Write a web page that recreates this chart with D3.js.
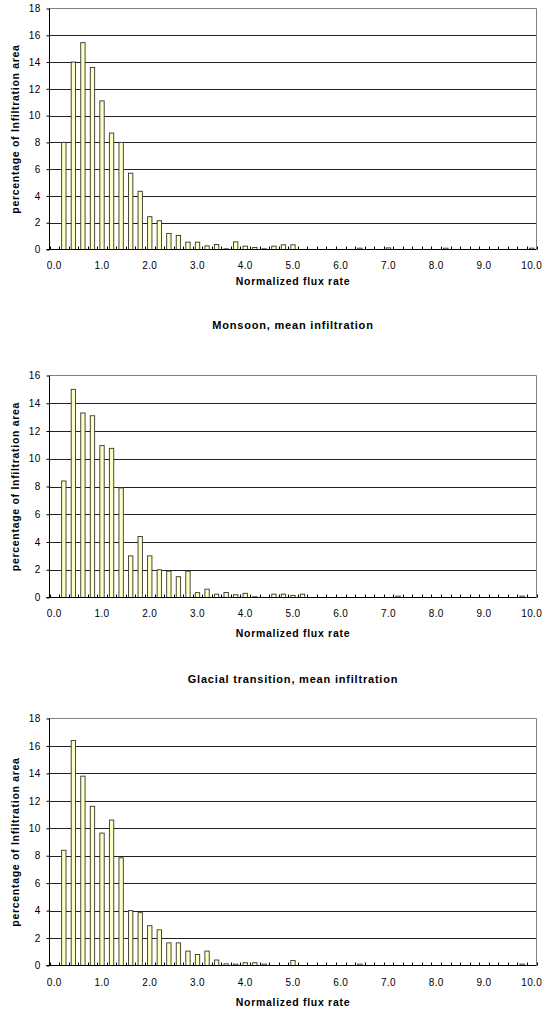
<!DOCTYPE html>
<html>
<head>
<meta charset="utf-8">
<script src="https://cdn.jsdelivr.net/npm/d3@7"></script>
<style>
  body { margin: 0; background: #fff; }
  svg text { font-family: "Liberation Sans", Arial, sans-serif; fill: #000; }
</style>
</head>
<body>
<div id="chart"></div>
<script>
"use strict";

// flux rate bins (category axis)
var categories = ["0.0","0.2","0.4","0.6","0.8","1.0","1.2","1.4","1.6","1.8",
    "2.0","2.2","2.4","2.6","2.8","3.0","3.2","3.4","3.6","3.8",
    "4.0","4.2","4.4","4.6","4.8","5.0","5.2","5.4","5.6","5.8",
    "6.0","6.2","6.4","6.6","6.8","7.0","7.2","7.4","7.6","7.8",
    "8.0","8.2","8.4","8.6","8.8","9.0","9.2","9.4","9.6","9.8","10.0"];

// labelled every 1.0
var xTickLabels = ["0.0","1.0","2.0","3.0","4.0","5.0","6.0","7.0","8.0","9.0","10.0"];

// percentage of infiltration area per bin
var presentValues = [0, 8.0, 14.0, 15.45, 13.6, 11.1, 8.7, 8.0, 5.7, 4.35,
    2.45, 2.15, 1.2, 1.05, 0.55, 0.55, 0.27, 0.37, 0.05, 0.57,
    0.25, 0.15, 0.05, 0.25, 0.35, 0.35, 0, 0, 0, 0,
    0, 0, 0.1, 0, 0, 0.12, 0, 0, 0, 0,
    0, 0.1, 0, 0, 0, 0, 0, 0, 0, 0, 0.1];

var monsoonValues = [0, 8.4, 15.0, 13.3, 13.1, 10.95, 10.75, 7.9, 3.0, 4.4,
    3.0, 2.0, 1.9, 1.5, 1.9, 0.35, 0.6, 0.24, 0.36, 0.2,
    0.3, 0.05, 0, 0.24, 0.24, 0.15, 0.24, 0, 0, 0,
    0, 0, 0, 0, 0, 0, 0.1, 0, 0, 0,
    0, 0, 0, 0, 0, 0, 0, 0, 0, 0.1, 0];

var glacialValues = [0, 8.4, 16.4, 13.8, 11.6, 9.65, 10.6, 7.85, 4.0, 3.85,
    2.9, 2.6, 1.65, 1.65, 1.05, 0.8, 1.05, 0.4, 0.12, 0.1,
    0.2, 0.2, 0.1, 0, 0, 0.36, 0, 0, 0, 0,
    0, 0, 0.1, 0, 0, 0, 0, 0, 0, 0,
    0, 0, 0, 0, 0, 0, 0, 0, 0, 0.1, 0];

var yMaxes = [18, 16, 18];
var titles = ["", "Monsoon, mean infiltration", "Glacial transition, mean infiltration"];

var xTitle = "Normalized flux rate";
var yTitle = "percentage of Infiltration area";

// panel layout
var panels = [
    { values: presentValues, yMax: yMaxes[0], title: titles[0], top: 8.5, bottom: 249.5, labelY: 269, xTitleY: 285, titleY: 0 },
    { values: monsoonValues, yMax: yMaxes[1], title: titles[1], top: 375.5, bottom: 597.5, labelY: 617, xTitleY: 637, titleY: 329 },
    { values: glacialValues, yMax: yMaxes[2], title: titles[2], top: 718.5, bottom: 965.5, labelY: 986, xTitleY: 1006, titleY: 683 }
];

var plotLeft = 49.5, plotRight = 536.5;

var svg = d3.select("#chart")
    .append("svg")
    .attr("width", 545)
    .attr("height", 1011);

panels.forEach(function (p) {

    var g = svg.append("g");

    var x = d3.scaleBand()
        .domain(categories)
        .range([plotLeft, plotRight])
        .paddingInner(0.545)
        .paddingOuter(0.545 / 2);

    var y = d3.scaleLinear()
        .domain([0, p.yMax])
        .range([p.bottom, p.top]);

    var yTicks = d3.range(0, p.yMax + 1, 2);

    // gridlines
    g.selectAll(".grid")
        .data(yTicks.filter(d => d > 0 && d < p.yMax))
        .join("line")
        .attr("x1", plotLeft)
        .attr("x2", plotRight)
        .attr("y1", d => Math.round(y(d)) + 0.5)
        .attr("y2", d => Math.round(y(d)) + 0.5)
        .attr("stroke", "#222")
        .attr("stroke-width", 1);

    // plot area border (top / right)
    g.append("path")
        .attr("d", `M${plotLeft},${p.top}H${plotRight}V${p.bottom}`)
        .attr("fill", "none")
        .attr("stroke", "#808080");

    // bars
    var data = categories.map((c, i) => ({ cat: c, v: p.values[i] })).filter(d => d.v > 0);
    g.selectAll(".bar")
        .data(data)
        .join("rect")
        .attr("x", d => x(d.cat))
        .attr("y", d => y(d.v))
        .attr("width", x.bandwidth())
        .attr("height", d => y(0) - y(d.v))
        .attr("fill", "#ffffc0")
        .attr("stroke", "#333")
        .attr("stroke-width", 0.9);

    // category boundary ticks (inside)
    var step = x.step();
    g.selectAll(".xtick")
        .data(d3.range(categories.length + 1))
        .join("line")
        .attr("x1", i => Math.round(plotLeft + i * step) + 0.5)
        .attr("x2", i => Math.round(plotLeft + i * step) + 0.5)
        .attr("y1", p.bottom)
        .attr("y2", p.bottom - 3)
        .attr("stroke", "#000");

    // x axis
    var xAxis = g.append("g")
        .attr("transform", `translate(0,${p.bottom})`)
        .call(d3.axisBottom(x).tickValues(xTickLabels).tickSize(0).tickPadding(0));
    xAxis.select(".domain").attr("stroke", "#000").attr("d", `M${plotLeft - 3},0H${plotRight}`);
    xAxis.selectAll("text")
        .attr("y", p.labelY - p.bottom)
        .attr("dy", null)
        .style("font-size", "10px")
        .style("letter-spacing", "0.4px");

    // y axis
    var yAxis = g.append("g")
        .attr("transform", `translate(${plotLeft},0)`)
        .call(d3.axisLeft(y).tickValues(yTicks).tickSize(3).tickPadding(6).tickFormat(d3.format("d")));
    yAxis.select(".domain").attr("stroke", "#000").attr("d", `M0,${p.top}V${p.bottom}`);
    yAxis.selectAll(".tick line").attr("stroke", "#000");
    yAxis.selectAll("text")
        .style("font-size", "10px")
        .style("letter-spacing", "0.3px");

    // axis titles
    g.append("text")
        .attr("x", (plotLeft + plotRight) / 2)
        .attr("y", p.xTitleY)
        .attr("text-anchor", "middle")
        .style("font-size", "10.5px")
        .style("font-weight", "bold")
        .style("letter-spacing", "0.7px")
        .text(xTitle);

    g.append("text")
        .attr("transform", `translate(19,${(p.top + p.bottom) / 2}) rotate(-90)`)
        .attr("text-anchor", "middle")
        .style("font-size", "10.5px")
        .style("font-weight", "bold")
        .style("letter-spacing", "0.7px")
        .text(yTitle);

    if (p.title) {
        g.append("text")
            .attr("x", (plotLeft + plotRight) / 2)
            .attr("y", p.titleY)
            .attr("text-anchor", "middle")
            .style("font-size", "11px")
            .style("font-weight", "bold")
            .style("letter-spacing", "0.8px")
            .text(p.title);
    }
});
</script>
</body>
</html>
